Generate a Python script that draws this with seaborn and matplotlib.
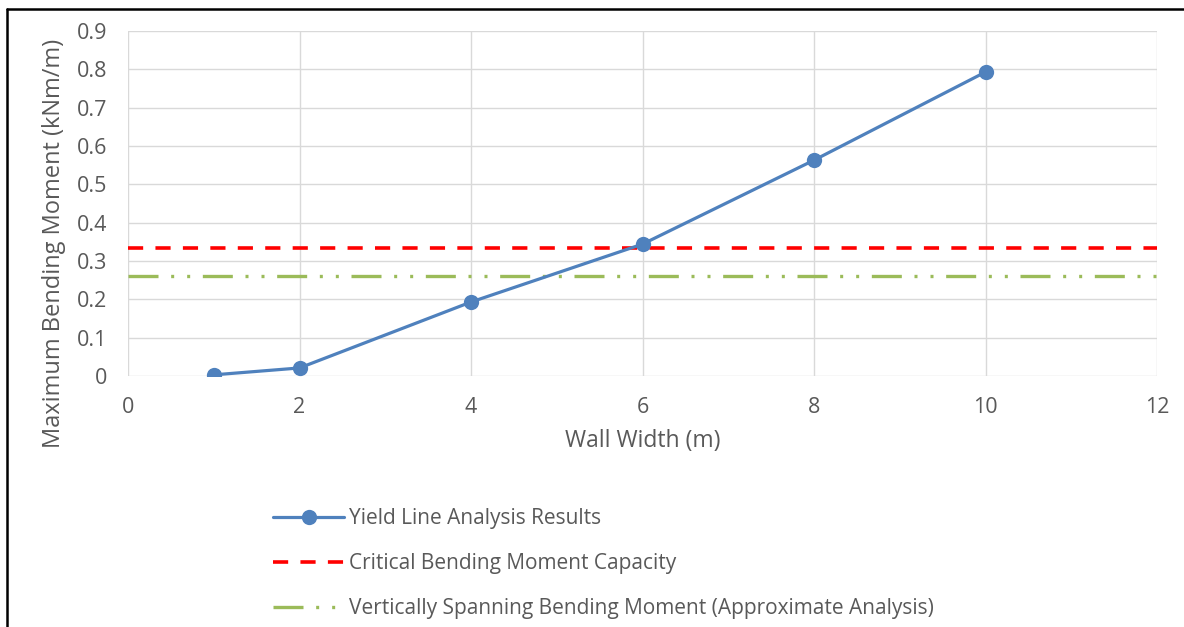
import matplotlib
matplotlib.use("Agg")
import matplotlib.pyplot as plt
from matplotlib.lines import Line2D
import seaborn as sns
import pandas as pd

# ---- data ----
wall_width = [1, 2, 4, 6, 8, 10]
yield_line_moment = [0.003, 0.021, 0.193, 0.344, 0.563, 0.793]
critical_capacity = 0.334
vertical_spanning = 0.261
x_ticks = [0, 2, 4, 6, 8, 10, 12]
y_ticks = [0, 0.1, 0.2, 0.3, 0.4, 0.5, 0.6, 0.7, 0.8, 0.9]
series_labels = ["Yield Line Analysis Results",
                 "Critical Bending Moment Capacity",
                 "Vertically Spanning Bending Moment (Approximate Analysis)"]

sns.set_theme(style="white")
plt.rcParams['font.family'] = ['Open Sans', 'DejaVu Sans']
text_color = "#595959"

fig = plt.figure(figsize=(11.84, 6.27), dpi=100)
ax = fig.add_axes([128/1184, 1-376/627, (1157-128)/1184, (376-31)/627])

df = pd.DataFrame({"x": wall_width, "y": yield_line_moment})
sns.lineplot(data=df, x="x", y="y", ax=ax, color="#4F81BD", linewidth=2.3,
             marker="o", markersize=11, markeredgewidth=0, label=series_labels[0],
             legend=False, zorder=5)

ax.axhline(critical_capacity, color="#FF0000", linewidth=2.6,
           linestyle=(0, (4.2, 3.4)), label=series_labels[1], zorder=3)
ax.axhline(vertical_spanning, color="#9BBB59", linewidth=2.4,
           linestyle=(0, (9.0, 3.8, 0.9, 3.9, 0.9, 3.8)), label=series_labels[2], zorder=3)

ax.set_xlim(0, 12)
ax.set_ylim(0, 0.9)
ax.set_xticks(x_ticks)
ax.set_yticks(y_ticks)
ax.set_xticklabels([f"{v:g}" for v in x_ticks])
ax.set_yticklabels([f"{v:g}" for v in y_ticks])
ax.tick_params(axis="both", length=0, labelsize=15.5, labelcolor=text_color)
ax.tick_params(axis="x", pad=15)
ax.tick_params(axis="y", pad=15)
ax.grid(True, color="#D9D9D9", linewidth=1.0)
for s in ax.spines.values():
    s.set_visible(False)

ax.set_xlabel("Wall Width (m)", fontsize=16.5, color=text_color, labelpad=8)
ax.set_ylabel("Maximum Bending Moment (kNm/m)", fontsize=17, color=text_color)
ax.yaxis.set_label_coords(-0.060, 0.385)

handles, labels = ax.get_legend_handles_labels()
order = [labels.index(l) for l in series_labels]
leg = fig.legend([handles[i] for i in order], [labels[i] for i in order],
                 loc="upper left", bbox_to_anchor=(265/1184, 1-500/627),
                 frameon=False, fontsize=15, handlelength=3.4, handletextpad=0.25,
                 labelspacing=1.15, borderaxespad=0)
for t in leg.get_texts():
    t.set_color(text_color)

# figure border (top and left visible)
fig.add_artist(Line2D([6.5/1184, 1.0], [1-8.5/627, 1-8.5/627], transform=fig.transFigure,
                      color="black", linewidth=1.8))
fig.add_artist(Line2D([6.5/1184, 6.5/1184], [0, 1-8.5/627], transform=fig.transFigure,
                      color="black", linewidth=1.8))

fig.savefig("out.png", dpi=100)
